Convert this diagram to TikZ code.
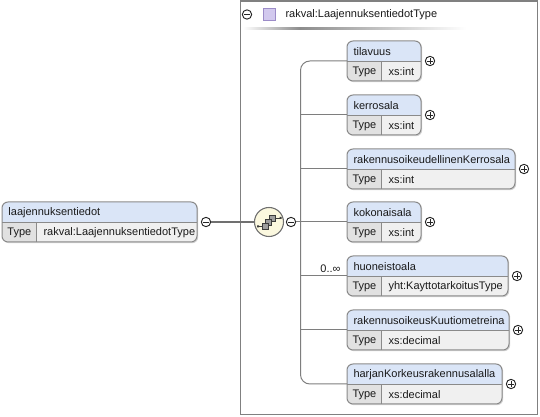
\documentclass[tikz,border=0pt]{standalone}
\usepackage{fontspec}
\setmainfont{Liberation Sans}
\definecolor{boxline}{HTML}{8A8A8A}
\definecolor{headc}{HTML}{DAE5F7}
\definecolor{rowc}{HTML}{F0F0F0}
\definecolor{typec}{HTML}{E1E1E1}
\definecolor{shadowc}{HTML}{D4D4D4}
\definecolor{txtc}{HTML}{1A1A1A}
\definecolor{connc}{HTML}{7E7E7E}
\definecolor{thickc}{HTML}{707070}
\definecolor{contc}{HTML}{808080}
\definecolor{seqfill}{HTML}{FBF8DF}
\definecolor{purpfill}{HTML}{D2C9EE}
\definecolor{purpline}{HTML}{9C8CC8}
\definecolor{sqfill}{HTML}{9E9E9E}
\definecolor{sqline}{HTML}{3C3C3C}
\tikzset{
  x=0.75pt, y=-0.75pt,
  elbox/.style={draw=boxline, line width=0.75pt, rounded corners=4.5pt, inner sep=0pt, outer sep=0pt, minimum height=30pt, anchor=north west},
  sepline/.style={draw=boxline, line width=0.75pt},
  txt/.style={anchor=west, inner sep=0pt, outer sep=0pt, font=\fontsize{8.25pt}{10pt}\selectfont, text=txtc},
  pm/.style={circle, draw=black!85, fill=white, minimum size=7pt, inner sep=0pt, outer sep=0pt, line width=0.7pt},
  plusc/.style={pm, path picture={\draw[line width=0.7pt] ([xshift=-2pt]path picture bounding box.center) -- ([xshift=2pt]path picture bounding box.center) ([yshift=-2pt]path picture bounding box.center) -- ([yshift=2pt]path picture bounding box.center);}},
  minusc/.style={pm, path picture={\draw[line width=0.7pt] ([xshift=-2pt]path picture bounding box.center) -- ([xshift=2pt]path picture bounding box.center);}},
  conn/.style={draw=connc, line width=0.75pt},
  thickconn/.style={draw=thickc, line width=1.6pt},
  seqnode/.style={circle, draw=thickc, fill=seqfill, line width=0.8pt, minimum size=21.75pt, inner sep=0pt, outer sep=0pt},
  iconsq/.style={fill=sqfill, draw=sqline, line width=0.5pt},
  iconln/.style={draw=sqline, line width=0.6pt},
}
% #1 name, #2 x, #3 y, #4 width, #5 title, #6 type, #7 circle style
\newcommand\elembox[7]{%
  \fill[shadowc, rounded corners=4.5pt] (#2+1.2,#3+1.2) rectangle (#2+#4+1.2,#3+41.2);
  \begin{scope}
    \clip[rounded corners=4.5pt] (#2,#3) rectangle (#2+#4,#3+40);
    \fill[headc] (#2,#3) rectangle (#2+#4,#3+21);
    \fill[rowc] (#2,#3+21) rectangle (#2+#4,#3+40);
    \fill[typec] (#2,#3+21) rectangle (#2+34,#3+40);
  \end{scope}
  \node[elbox, minimum width={#4*0.75pt}] (#1) at (#2,#3) {};
  \draw[sepline] (#2,#3+21) -- (#2+#4,#3+21) (#2+34,#3+21) -- (#2+34,#3+40);
  \node[txt] (#1-n) at (#2+6.5,#3+10.7) {#5};
  \node[txt] (#1-k) at (#2+5.5,#3+30.7) {Type};
  \node[txt] (#1-v) at (#2+41.5,#3+30.7) {#6};
  \node[#7] (#1-p) at (#2+#4+9,#3+20) {};
}
\begin{document}
\begin{tikzpicture}
\useasboundingbox (0,0) rectangle (540,417);
\fill[white] (0,0) rectangle (540,417);
% container
\draw[draw=contc, line width=1.1pt] (240.5,1) rectangle (537.5,414.5);
\node[minusc] (hm) at (247,14.5) {};
\node[draw=purpline, fill=purpfill, line width=0.6pt, minimum size=9pt, inner sep=0pt] (hsq) at (269,14.5) {};
\node[txt] (htitle) at (285.5,14.5) {rakval:LaajennuksentiedotType};
\shade[left color=white, right color=black!45] (243,27.3) rectangle (300,29.3);
\shade[left color=black!45, right color=white] (300,27.3) rectangle (466,29.3);
% left element
\elembox{laaj}{2}{202}{195}{laajennuksentiedot}{rakval:LaajennuksentiedotType}{minusc}
% sequence
\node[seqnode] (seq) at (269,222) {};
\draw[thickconn] (laaj-p.east) -- (seq.west);
\draw[iconln] (257.5,226.5) -- (262,226.5) (275,218) -- (280.5,218);
\fill[sqline] (257,225.5) rectangle (259,227.5) (279.5,217) rectangle (281.5,219);
\filldraw[iconsq] (269,215) rectangle (275,221);
\filldraw[iconsq] (265.5,219.3) rectangle (271.5,225.3);
\filldraw[iconsq] (262,223.5) rectangle (268,229.5);
\node[minusc] (seqm) at (291,222) {};
% children
\elembox{tilavuus}{347}{41}{74}{tilavuus}{xs:int}{plusc}
\elembox{kerrosala}{347}{95}{74}{kerrosala}{xs:int}{plusc}
\elembox{rok}{347}{149}{168}{rakennusoikeudellinenKerrosala}{xs:int}{plusc}
\elembox{kokonaisala}{347}{202}{74}{kokonaisala}{xs:int}{plusc}
\elembox{huoneistoala}{347}{256}{161}{huoneistoala}{yht:KayttotarkoitusType}{plusc}
\elembox{rokm}{347}{310}{162}{rakennusoikeusKuutiometreina}{xs:decimal}{plusc}
\elembox{harjan}{347}{364}{155}{harjanKorkeusrakennusalalla}{xs:decimal}{plusc}
% connectors
\coordinate (trunk) at (300.5,222);
\draw[conn, rounded corners=7pt] (tilavuus.west) -| (trunk) |- (harjan.west);
\draw[conn] (trunk) |- (kerrosala.west);
\draw[conn] (trunk) |- (rok.west);
\draw[conn] (seqm.east) -- (kokonaisala.west);
\draw[conn] (trunk) |- (huoneistoala.west);
\draw[conn] (trunk) |- (rokm.west);
\node[txt, anchor=east] (card) at (340.5,268.5) {0..∞};
\end{tikzpicture}
\end{document}
